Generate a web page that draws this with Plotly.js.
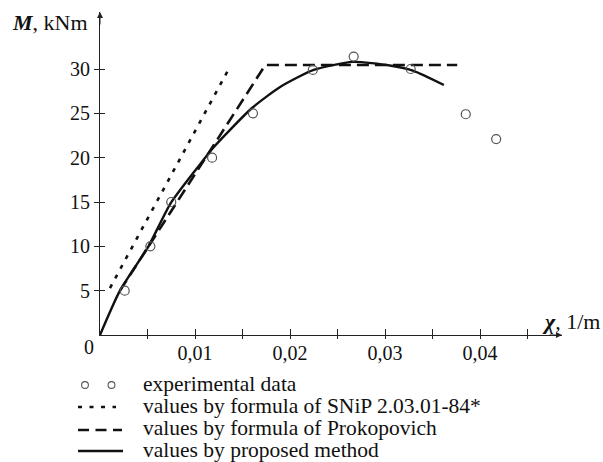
<!DOCTYPE html>
<html><head><meta charset="utf-8">
<script src="https://cdn.plot.ly/plotly-3.0.1.min.js"></script>
<style>body{margin:0;background:#fff}#chart{width:603px;height:462px}</style>
</head><body><div id="chart"></div>
<script>
// Experimental data
const expChi = [0.0026, 0.0053, 0.0075, 0.0118, 0.0161, 0.0224, 0.0267, 0.0327, 0.0385, 0.0417];
const expM   = [5.0, 10.0, 15.0, 20.0, 25.0, 29.9, 31.4, 30.0, 24.9, 22.1];
// SNiP 2.03.01-84*
const snipChi = [0.00105, 0.0136];
const snipM   = [5.3, 30.1];
// Prokopovich
const prokChi = [0.0021, 0.0174, 0.0376];
const prokM   = [5.0, 30.45, 30.45];
// Proposed method
const propChi = [0, 0.0021, 0.0051, 0.0074, 0.0102, 0.0119, 0.0160, 0.0190, 0.0225, 0.0266, 0.0305, 0.0330, 0.0362];
const propM   = [0, 5.0, 10.0, 14.8, 18.8, 21.1, 25.6, 28.0, 29.9, 30.8, 30.4, 29.8, 28.2];
// Ticks
const xTickVals = [0.005, 0.01, 0.015, 0.02, 0.025, 0.03, 0.035, 0.04, 0.045];
const xTickText = ['', '0,01', '', '0,02', '', '0,03', '', '0,04', ''];
const yTickVals = [5, 10, 15, 20, 25, 30];
const yTickText = ['5', '10', '15', '20', '25', '30'];
// Legend labels
const legendLabels = ['experimental data', 'values by formula of SNiP 2.03.01-84*',
                      'values by formula of Prokopovich', 'values by proposed method'];

const XMAX = 0.04863, YMAX = 36.43;
const FONT = 'Liberation Serif';
const INK = '#111';
// plot area geometry (px) for placing decorations
const L = 100, T = 12, W = 462, H = 323;
const px = p => (p - L) / W;
const py = p => (T + H - p) / H;

const traces = [
  {x: snipChi, y: snipM, mode: 'lines', name: legendLabels[1],
   line: {color: INK, width: 2.6, dash: '4px,7px'}},
  {x: prokChi, y: prokM, mode: 'lines', name: legendLabels[2],
   line: {color: INK, width: 2.6, dash: '12px,6px'}},
  {x: propChi, y: propM, mode: 'lines', name: legendLabels[3],
   line: {color: INK, width: 2.4, shape: 'spline', smoothing: 0.6}},
  {x: expChi, y: expM, mode: 'markers', name: legendLabels[0],
   marker: {symbol: 'circle-open', size: 9, color: '#555', line: {width: 1.2, color: '#555'}}},
  {x: [null], y: [null], xaxis: 'x2', yaxis: 'y2', showlegend: false, hoverinfo: 'skip', mode: 'markers'}
];

const legendRowsY = [383.5, 406, 428, 450];
const sampleY = [385, 407, 430, 451];
const shapes = [
  {type: 'circle', xref: 'paper', yref: 'paper', xsizemode: 'pixel', ysizemode: 'pixel',
   xanchor: px(85), yanchor: py(sampleY[0]), x0: -3.4, x1: 3.4, y0: -3.4, y1: 3.4, line: {color: '#555', width: 1.1}},
  {type: 'circle', xref: 'paper', yref: 'paper', xsizemode: 'pixel', ysizemode: 'pixel',
   xanchor: px(111.5), yanchor: py(sampleY[0]), x0: -3.4, x1: 3.4, y0: -3.4, y1: 3.4, line: {color: '#555', width: 1.1}},
  {type: 'line', xref: 'paper', yref: 'paper', x0: px(78), x1: px(116), y0: py(sampleY[1]), y1: py(sampleY[1]),
   line: {color: INK, width: 2.4, dash: '4px,7.5px'}},
  {type: 'line', xref: 'paper', yref: 'paper', x0: px(78), x1: px(122), y0: py(sampleY[2]), y1: py(sampleY[2]),
   line: {color: INK, width: 2.6, dash: '11px,6.5px'}},
  {type: 'line', xref: 'paper', yref: 'paper', x0: px(78), x1: px(123), y0: py(sampleY[3]), y1: py(sampleY[3]),
   line: {color: INK, width: 2.4}}
];

const annotations = [
  {x: XMAX, y: 0, xref: 'x', yref: 'y', ax: -14, ay: 0, showarrow: true, arrowhead: 2, arrowsize: 1.2, arrowwidth: 1, arrowcolor: '#222', text: ''},
  {x: 0, y: YMAX, xref: 'x', yref: 'y', ax: 0, ay: 14, showarrow: true, arrowhead: 2, arrowsize: 1.2, arrowwidth: 1, arrowcolor: '#222', text: ''},
  {x: px(90), y: py(22), xref: 'paper', yref: 'paper', xanchor: 'right', yanchor: 'middle', showarrow: false,
   text: '<b><i>M</i></b>, kNm', font: {family: FONT, size: 22, color: INK}},
  {x: px(602), y: py(321), xref: 'paper', yref: 'paper', xanchor: 'right', yanchor: 'middle', showarrow: false,
   text: '<b><i>χ</i></b>, 1/m', font: {family: FONT, size: 22, color: INK}},
  {x: px(89), y: py(347), xref: 'paper', yref: 'paper', xanchor: 'center', yanchor: 'middle', showarrow: false,
   text: '0', font: {family: FONT, size: 20, color: INK}}
];
legendLabels.forEach((t, i) => annotations.push({
  x: px(141), y: py(legendRowsY[i]), xref: 'paper', yref: 'paper', xanchor: 'left', yanchor: 'middle',
  showarrow: false, text: t, font: {family: FONT, size: 21.5, color: INK}
}));

const layout = {
  width: 603, height: 462,
  margin: {l: L, r: 603 - L - W, t: T, b: 462 - T - H},
  paper_bgcolor: '#fff', plot_bgcolor: '#fff',
  font: {family: FONT, size: 20, color: INK},
  showlegend: false,
  xaxis: {range: [0, XMAX], showgrid: false, zeroline: false, showline: true, linecolor: '#222', linewidth: 1,
          ticks: 'inside', ticklen: 6, tickcolor: '#222', tickvals: xTickVals, ticktext: xTickText,
          tickfont: {family: FONT, size: 20, color: INK}},
  yaxis: {range: [0, YMAX], showgrid: false, zeroline: false, showline: true, linecolor: '#222', linewidth: 1,
          ticks: 'outside', ticklen: 5, tickcolor: '#222', tickvals: yTickVals, ticktext: yTickText,
          tickfont: {family: FONT, size: 20, color: INK}},
  xaxis2: {range: [0, XMAX], overlaying: 'x', showgrid: false, zeroline: false, showline: false,
           ticks: 'outside', ticklen: 3, tickcolor: '#222', tickvals: xTickVals, showticklabels: false},
  yaxis2: {range: [0, YMAX], overlaying: 'y', showgrid: false, zeroline: false, showline: false,
           ticks: 'inside', ticklen: 5, tickcolor: '#222', tickvals: yTickVals, showticklabels: false},
  shapes: shapes,
  annotations: annotations
};
Plotly.newPlot('chart', traces, layout, {staticPlot: true, displayModeBar: false});
</script></body></html>
